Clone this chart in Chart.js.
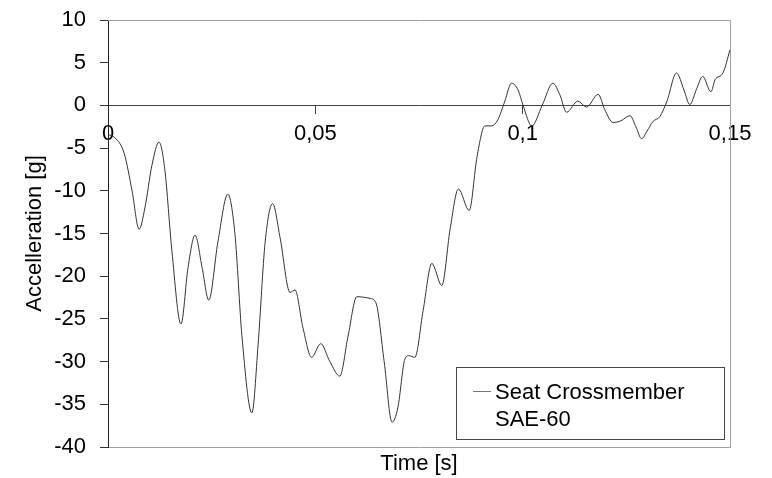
<!DOCTYPE html>
<html>
<head>
<meta charset="utf-8">
<script src="https://cdn.jsdelivr.net/npm/chart.js@4/dist/chart.umd.min.js"></script>
<style>
  html, body { margin: 0; padding: 0; background: #fff; }
  #wrap { width: 772px; height: 478px; }
</style>
</head>
<body>
<div id="wrap"><canvas id="accChart" width="772" height="478"></canvas></div>
<script>
// tiempo [s]
const tiempo = [
  0, 0.0017, 0.0039, 0.0058, 0.0075, 0.0089, 0.0106, 0.0123, 0.0137, 0.0154,
  0.0176, 0.0193, 0.0210, 0.0227, 0.0243, 0.0265, 0.0289, 0.0306, 0.0323, 0.0347,
  0.0362, 0.0379, 0.0397, 0.0415, 0.0439, 0.0451, 0.0470, 0.0491, 0.0513, 0.0535,
  0.0559, 0.0579, 0.0600, 0.0632, 0.0646, 0.0666, 0.0685, 0.0699, 0.0716, 0.0726,
  0.0740, 0.0760, 0.0781, 0.0805, 0.0825, 0.0845, 0.0871, 0.0890, 0.0909, 0.0925,
  0.0940, 0.0957, 0.0973, 0.0989, 0.1001, 0.1022, 0.1047, 0.1073, 0.1090, 0.1106,
  0.1133, 0.1154, 0.1182, 0.1198, 0.1218, 0.1237, 0.1259, 0.1273, 0.1287, 0.1300,
  0.1314, 0.1331, 0.1348, 0.1371, 0.1389, 0.1403, 0.1420, 0.1434, 0.1454, 0.1464,
  0.1483, 0.1500
];
// aceleracion [g]
const aceleracion = [
  -3.4, -3.8, -5.6, -10, -14.5, -12, -7, -4.3, -7.5, -17,
  -25.6, -19, -15.2, -19, -22.8, -16, -10.4, -15, -27, -36,
  -28, -16, -11.5, -15.5, -21.9, -21.6, -26, -29.5, -27.9, -30,
  -31.7, -27, -22.4, -22.6, -23.1, -30, -37.1, -35.4, -29.7, -29.3,
  -29.5, -24, -18.5, -21.1, -14.5, -9.8, -12.3, -6, -2.4, -2.4,
  -1.7, 0.5, 2.6, 1.8, 0, -2.4, 0, 2.6, 1.2, -0.8,
  0.5, -0.2, 1.3, -0.5, -2.0, -1.8, -1.2, -2.5, -3.9, -3,
  -1.9, -1.3, 0.5, 3.8, 1.8, 0.1, 2, 3.4, 1.6, 3.0,
  3.8, 6.5
];
const etiquetaSerie = ["Seat Crossmember", "SAE-60"];
const ticksX = [0, 0.05, 0.1, 0.15];

const FUENTE = "'Liberation Sans', Arial, sans-serif";

// borde gris superior y derecho del area de trazado
const bordeArea = {
  id: "bordeArea",
  beforeDatasetsDraw(chart) {
    const { ctx, chartArea: a } = chart;
    ctx.save();
    ctx.strokeStyle = "#a0a0a0";
    ctx.lineWidth = 1;
    ctx.beginPath();
    ctx.moveTo(a.left, a.top + 0.5);
    ctx.lineTo(a.right + 0.5, a.top + 0.5);
    ctx.lineTo(a.right + 0.5, a.bottom);
    ctx.stroke();
    ctx.restore();
  }
};

// leyenda dentro del area, abajo a la derecha
const leyenda = {
  id: "leyenda",
  afterDraw(chart) {
    const { ctx, chartArea: a } = chart;
    const w = 268, h = 72;
    const x0 = a.right - 6 - w, y0 = a.bottom - 8 - h;
    ctx.save();
    ctx.fillStyle = "#fff";
    ctx.fillRect(x0, y0, w, h);
    ctx.strokeStyle = "#444";
    ctx.lineWidth = 1;
    ctx.strokeRect(x0 + 0.5, y0 + 0.5, w, h);
    ctx.strokeStyle = "#777";
    ctx.beginPath();
    ctx.moveTo(x0 + 17, y0 + 24.5);
    ctx.lineTo(x0 + 35, y0 + 24.5);
    ctx.stroke();
    ctx.fillStyle = "#000";
    ctx.font = "22px " + FUENTE;
    ctx.textBaseline = "alphabetic";
    ctx.fillText(etiquetaSerie[0], x0 + 39, y0 + 32);
    ctx.fillText(etiquetaSerie[1], x0 + 39, y0 + 59);
    ctx.restore();
  }
};

const formatoX = (v) => String(+v.toFixed(2)).replace(".", ",");

new Chart(document.getElementById("accChart"), {
  type: "line",
  data: {
    datasets: [
      {
        label: etiquetaSerie.join(" "),
        data: tiempo.map((t, i) => ({ x: t, y: aceleracion[i] })),
        borderColor: "#333",
        borderWidth: 1,
        pointRadius: 0,
        cubicInterpolationMode: "monotone",
        fill: false,
        xAxisID: "x",
        yAxisID: "y"
      }
    ]
  },
  options: {
    responsive: false,
    animation: false,
    layout: { padding: { top: 20, right: 42, left: 0, bottom: 0 } },
    plugins: { legend: { display: false }, tooltip: { enabled: false } },
    scales: {
      x: {
        type: "linear",
        position: "bottom",
        min: 0,
        max: 0.15,
        ticks: { display: false },
        grid: { drawOnChartArea: false, drawTicks: false },
        border: { color: "#a0a0a0" },
        title: {
          display: true,
          text: "Time [s]",
          color: "#000",
          font: { family: FUENTE, size: 22 },
          padding: { top: 0, bottom: 1 }
        },
        afterFit(s) { s.height = 31; }
      },
      x2: {
        type: "linear",
        position: { y: 0 },
        min: 0,
        max: 0.15,
        afterBuildTicks(s) { s.ticks = ticksX.map((v) => ({ value: v })); },
        ticks: {
          color: "#000",
          padding: 7,
          maxRotation: 0,
          font: { family: FUENTE, size: 22 },
          callback: formatoX
        },
        grid: { drawOnChartArea: false, tickLength: 8, color: "#444" },
        border: { color: "#444" },
        afterFit(s) { s.paddingLeft = 0; s.paddingRight = 0; }
      },
      y: {
        min: -40,
        max: 10,
        ticks: {
          stepSize: 5,
          color: "#000",
          padding: 14,
          font: { family: FUENTE, size: 22 }
        },
        grid: { drawOnChartArea: false, tickLength: 8, color: "#333" },
        border: { color: "#222" },
        title: {
          display: true,
          text: "Accelleration [g]",
          color: "#000",
          font: { family: FUENTE, size: 22 },
          padding: { top: 22, bottom: 0 }
        },
        afterFit(s) { s.width = 108; s.paddingTop = 0; s.paddingBottom = 0; }
      }
    }
  },
  plugins: [bordeArea, leyenda]
});
</script>
</body>
</html>
